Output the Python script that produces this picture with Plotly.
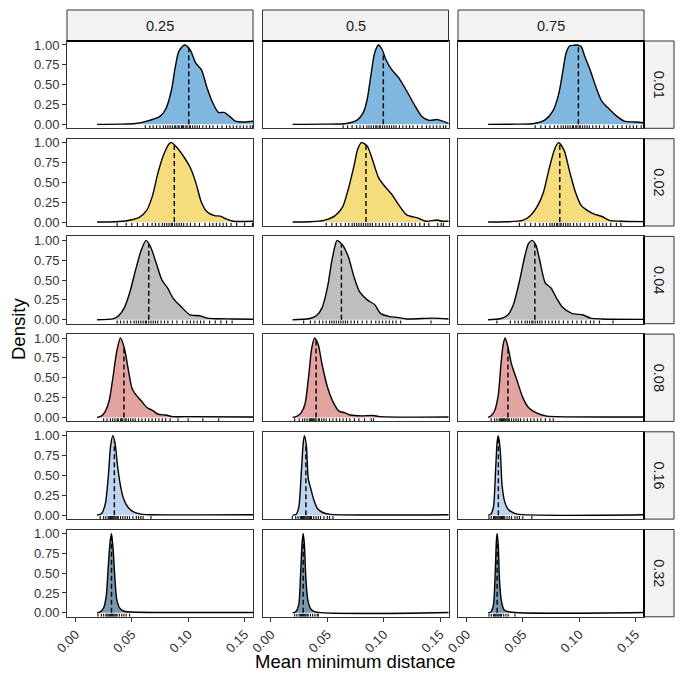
import plotly.graph_objects as go

# ---------------- facet labels / ticks ----------------
COL_LABELS = ["0.25", "0.5", "0.75"]
ROW_LABELS = ["0.01", "0.02", "0.04", "0.08", "0.16", "0.32"]
ROW_FILLS = ["#7FB7DE", "#F5DD7E", "#BEBEBE", "#E3A4A1", "#BDD3EE", "#7997AF"]
X_TICKS = [0.0, 0.05, 0.10, 0.15]
X_TICK_TEXT = ["0.00", "0.05", "0.10", "0.15"]
Y_TICKS = [0.0, 0.25, 0.5, 0.75, 1.0]
Y_TICK_TEXT = ["0.00", "0.25", "0.50", "0.75", "1.00"]

# ---------------- scaled density curves ----------------
# row 0.01
dx_01_25 = [0.0192, 0.040, 0.0533, 0.0633, 0.0750, 0.0800, 0.0850, 0.0884, 0.0917, 0.0967, 0.1017, 0.1067, 0.1117, 0.1167, 0.1218, 0.1268, 0.1318, 0.1368, 0.1418, 0.1502, 0.158]
dy_01_25 = [0.0, 0.002, 0.01, 0.04, 0.10, 0.19, 0.42, 0.71, 0.92, 1.0, 0.94, 0.77, 0.69, 0.46, 0.27, 0.15, 0.15, 0.10, 0.04, 0.03, 0.04]
dx_01_50 = [0.0192, 0.046, 0.067, 0.077, 0.082, 0.0853, 0.0887, 0.092, 0.0954, 0.0987, 0.1021, 0.1071, 0.1137, 0.1204, 0.1271, 0.1338, 0.1405, 0.1471, 0.1522, 0.158]
dy_01_50 = [0.0, 0.002, 0.01, 0.06, 0.15, 0.31, 0.62, 0.90, 1.0, 0.94, 0.81, 0.69, 0.58, 0.42, 0.25, 0.10, 0.05, 0.06, 0.04, 0.01]
dx_01_75 = [0.0192, 0.045, 0.0600, 0.0700, 0.0767, 0.0817, 0.0850, 0.0884, 0.0917, 0.0950, 0.0984, 0.1017, 0.1051, 0.1101, 0.1151, 0.1201, 0.1268, 0.1335, 0.1401, 0.1501, 0.158]
dy_01_75 = [0.0, 0.002, 0.01, 0.06, 0.17, 0.375, 0.625, 0.90, 0.99, 0.995, 1.0, 0.98, 0.85, 0.67, 0.46, 0.29, 0.19, 0.10, 0.04, 0.03, 0.02]
# row 0.02
dx_02_25 = [0.0192, 0.035, 0.0466, 0.0566, 0.0633, 0.0683, 0.0733, 0.0783, 0.0833, 0.0853, 0.0900, 0.0967, 0.1017, 0.1067, 0.1117, 0.1167, 0.1234, 0.1284, 0.1334, 0.1401, 0.158]
dy_02_25 = [0.0, 0.003, 0.02, 0.06, 0.15, 0.33, 0.625, 0.85, 0.99, 1.0, 0.94, 0.81, 0.69, 0.50, 0.25, 0.13, 0.08, 0.075, 0.04, 0.01, 0.01]
dx_02_50 = [0.0192, 0.035, 0.0469, 0.057, 0.0636, 0.0687, 0.0737, 0.077, 0.0803, 0.0853, 0.0904, 0.0954, 0.1004, 0.1071, 0.1137, 0.1204, 0.1305, 0.1372, 0.1472, 0.1522, 0.158]
dy_02_50 = [0.0, 0.003, 0.02, 0.08, 0.19, 0.42, 0.71, 0.92, 1.0, 0.96, 0.77, 0.56, 0.46, 0.35, 0.21, 0.09, 0.05, 0.01, 0.025, 0.01, 0.01]
dx_02_75 = [0.0192, 0.035, 0.0499, 0.0566, 0.0633, 0.0683, 0.0733, 0.0783, 0.0817, 0.0867, 0.0917, 0.0967, 0.1017, 0.1068, 0.1134, 0.1201, 0.1268, 0.1368, 0.158]
dy_02_75 = [0.0, 0.003, 0.02, 0.08, 0.21, 0.375, 0.67, 0.92, 1.0, 0.90, 0.625, 0.375, 0.21, 0.15, 0.10, 0.07, 0.02, 0.01, 0.005]
# row 0.04
dx_04_25 = [0.0192, 0.0332, 0.0383, 0.0433, 0.0483, 0.0533, 0.0583, 0.0626, 0.0666, 0.0717, 0.0767, 0.0817, 0.0867, 0.0934, 0.1017, 0.1101, 0.1168, 0.1268, 0.1401, 0.158]
dy_04_25 = [0.0, 0.01, 0.05, 0.15, 0.35, 0.625, 0.875, 1.0, 0.92, 0.71, 0.50, 0.40, 0.27, 0.17, 0.06, 0.05, 0.02, 0.012, 0.01, 0.005]
dx_04_50 = [0.0192, 0.0336, 0.0403, 0.0453, 0.0503, 0.0536, 0.057, 0.0586, 0.0636, 0.0687, 0.0737, 0.0787, 0.0854, 0.0921, 0.0971, 0.1054, 0.1121, 0.1204, 0.1438, 0.158]
dy_04_50 = [0.0, 0.012, 0.05, 0.15, 0.42, 0.71, 0.94, 1.0, 0.94, 0.79, 0.54, 0.35, 0.25, 0.19, 0.08, 0.04, 0.03, 0.01, 0.02, 0.01]
dx_04_75 = [0.0192, 0.0299, 0.0366, 0.0416, 0.0466, 0.0516, 0.0550, 0.0583, 0.0616, 0.0650, 0.0700, 0.0750, 0.0800, 0.0850, 0.0934, 0.1034, 0.1101, 0.1201, 0.158]
dy_04_75 = [0.0, 0.012, 0.06, 0.19, 0.46, 0.79, 0.96, 1.0, 0.94, 0.75, 0.46, 0.40, 0.27, 0.16, 0.08, 0.06, 0.02, 0.01, 0.005]
# row 0.08
dx_08_25 = [0.0192, 0.0232, 0.0266, 0.0299, 0.0332, 0.0366, 0.0399, 0.0433, 0.0466, 0.0500, 0.0533, 0.0583, 0.0633, 0.0683, 0.0733, 0.0800, 0.0867, 0.0967, 0.158]
dy_08_25 = [0.0, 0.02, 0.08, 0.21, 0.50, 0.83, 1.0, 0.875, 0.625, 0.375, 0.29, 0.21, 0.125, 0.09, 0.04, 0.03, 0.01, 0.01, 0.005]
dx_08_50 = [0.0192, 0.0229, 0.0269, 0.0302, 0.0336, 0.0362, 0.0386, 0.0419, 0.0453, 0.0503, 0.0553, 0.0603, 0.0653, 0.0703, 0.0804, 0.0904, 0.0971, 0.158]
dy_08_50 = [0.0, 0.012, 0.06, 0.17, 0.54, 0.875, 1.0, 0.92, 0.67, 0.375, 0.19, 0.08, 0.06, 0.03, 0.02, 0.025, 0.01, 0.005]
dx_08_75 = [0.0192, 0.0216, 0.0249, 0.0283, 0.0306, 0.0326, 0.0343, 0.0366, 0.0400, 0.0450, 0.0500, 0.0550, 0.0616, 0.0700, 0.0800, 0.158]
dy_08_75 = [0.0, 0.017, 0.08, 0.29, 0.67, 0.92, 1.0, 0.90, 0.67, 0.46, 0.25, 0.125, 0.06, 0.02, 0.01, 0.005]
# row 0.16
dx_16_25 = [0.0192, 0.0232, 0.0266, 0.0292, 0.0312, 0.0332, 0.0352, 0.0373, 0.0399, 0.0426, 0.0466, 0.0516, 0.0583, 0.0666, 0.158]
dy_16_25 = [0.0, 0.02, 0.15, 0.50, 0.875, 1.0, 0.90, 0.625, 0.375, 0.21, 0.10, 0.04, 0.012, 0.005, 0.005]
dx_16_50 = [0.0192, 0.0224, 0.0247, 0.0271, 0.0287, 0.0297, 0.0314, 0.0331, 0.0354, 0.0381, 0.0414, 0.0464, 0.0531, 0.158]
dy_16_50 = [0.0, 0.012, 0.10, 0.58, 0.92, 1.0, 0.875, 0.46, 0.33, 0.19, 0.08, 0.03, 0.01, 0.005]
dx_16_75 = [0.0192, 0.0216, 0.0239, 0.0259, 0.0272, 0.0282, 0.0299, 0.0316, 0.0339, 0.0366, 0.0400, 0.0450, 0.158]
dy_16_75 = [0.0, 0.012, 0.10, 0.58, 0.92, 1.0, 0.83, 0.375, 0.17, 0.08, 0.04, 0.012, 0.005]
# row 0.32
dx_32_25 = [0.0192, 0.0216, 0.0249, 0.0273, 0.0289, 0.0306, 0.0319, 0.0333, 0.0349, 0.0366, 0.0393, 0.0433, 0.0483, 0.158]
dy_32_25 = [0.0, 0.01, 0.06, 0.21, 0.54, 0.875, 1.0, 0.83, 0.46, 0.17, 0.06, 0.02, 0.01, 0.005]
dx_32_50 = [0.0192, 0.0219, 0.0246, 0.0262, 0.0276, 0.0286, 0.0296, 0.0309, 0.0326, 0.0353, 0.0393, 0.158]
dy_32_50 = [0.0, 0.012, 0.10, 0.46, 0.875, 1.0, 0.875, 0.46, 0.17, 0.05, 0.012, 0.005]
dx_32_75 = [0.0192, 0.0216, 0.0239, 0.0256, 0.0266, 0.0273, 0.0283, 0.0293, 0.0310, 0.0333, 0.0383, 0.158]
dy_32_75 = [0.0, 0.012, 0.10, 0.54, 0.92, 1.0, 0.83, 0.42, 0.15, 0.04, 0.01, 0.005]

# ---------------- medians (dashed lines) and curve height at median ----------------
med_01 = [0.1005, 0.0997, 0.0993]
medh_01 = [0.955, 0.90, 1.0]
med_02 = [0.0877, 0.0843, 0.0828]
medh_02 = [0.97, 0.97, 0.98]
med_04 = [0.0650, 0.0625, 0.0607]
medh_04 = [0.95, 0.95, 0.955]
med_08 = [0.0430, 0.0400, 0.0368]
medh_08 = [0.88, 0.97, 0.89]
med_16 = [0.0345, 0.0310, 0.0283]
medh_16 = [0.93, 0.90, 0.98]
med_32 = [0.0320, 0.0286, 0.0272]
medh_32 = [1.0, 1.0, 1.0]

# ---------------- rug values ----------------
rug_01_25 = [0.062, 0.066, 0.069, 0.072, 0.075, 0.078, 0.080, 0.082, 0.084, 0.086, 0.088, 0.089, 0.091, 0.092, 0.094, 0.095, 0.096, 0.098, 0.099, 0.101, 0.102, 0.104, 0.106, 0.108, 0.110, 0.113, 0.116, 0.119, 0.122, 0.126, 0.130, 0.134, 0.137, 0.140, 0.143, 0.146, 0.149, 0.152, 0.155, 0.157]
rug_01_50 = [0.064, 0.068, 0.072, 0.076, 0.079, 0.082, 0.085, 0.087, 0.089, 0.091, 0.093, 0.094, 0.096, 0.097, 0.099, 0.101, 0.103, 0.105, 0.107, 0.109, 0.111, 0.114, 0.117, 0.120, 0.123, 0.126, 0.130, 0.134, 0.138, 0.141, 0.144, 0.147, 0.150, 0.153, 0.155]
rug_01_75 = [0.061, 0.066, 0.070, 0.074, 0.078, 0.081, 0.084, 0.086, 0.088, 0.090, 0.092, 0.094, 0.095, 0.097, 0.098, 0.100, 0.101, 0.103, 0.105, 0.107, 0.109, 0.112, 0.115, 0.118, 0.122, 0.126, 0.130, 0.134, 0.138, 0.142, 0.145, 0.148, 0.151, 0.155]
rug_02_25 = [0.037, 0.045, 0.050, 0.055, 0.060, 0.064, 0.068, 0.071, 0.074, 0.077, 0.079, 0.081, 0.083, 0.085, 0.086, 0.088, 0.090, 0.092, 0.094, 0.096, 0.099, 0.102, 0.106, 0.110, 0.115, 0.119, 0.122, 0.125, 0.128, 0.131, 0.134, 0.138, 0.143, 0.150, 0.157]
rug_02_50 = [0.049, 0.054, 0.058, 0.062, 0.066, 0.069, 0.072, 0.074, 0.076, 0.078, 0.080, 0.082, 0.084, 0.086, 0.088, 0.090, 0.093, 0.096, 0.099, 0.102, 0.105, 0.108, 0.112, 0.116, 0.119, 0.122, 0.125, 0.128, 0.132, 0.136, 0.140, 0.148, 0.151, 0.153]
rug_02_75 = [0.047, 0.052, 0.057, 0.061, 0.065, 0.068, 0.071, 0.074, 0.076, 0.078, 0.080, 0.081, 0.083, 0.084, 0.086, 0.088, 0.090, 0.092, 0.095, 0.098, 0.101, 0.105, 0.109, 0.112, 0.115, 0.118, 0.121, 0.124, 0.128, 0.133, 0.137]
rug_04_25 = [0.037, 0.040, 0.043, 0.046, 0.049, 0.052, 0.054, 0.056, 0.058, 0.060, 0.062, 0.063, 0.065, 0.067, 0.069, 0.071, 0.073, 0.076, 0.079, 0.082, 0.086, 0.090, 0.095, 0.099, 0.102, 0.105, 0.108, 0.111, 0.114, 0.119, 0.124, 0.129, 0.134, 0.139]
rug_04_50 = [0.029, 0.035, 0.039, 0.043, 0.046, 0.049, 0.052, 0.054, 0.056, 0.058, 0.060, 0.062, 0.064, 0.066, 0.068, 0.071, 0.074, 0.077, 0.081, 0.085, 0.089, 0.093, 0.096, 0.099, 0.102, 0.105, 0.108, 0.111, 0.115, 0.142]
rug_04_75 = [0.027, 0.039, 0.043, 0.046, 0.049, 0.052, 0.054, 0.056, 0.058, 0.059, 0.061, 0.063, 0.065, 0.067, 0.070, 0.073, 0.076, 0.079, 0.082, 0.086, 0.090, 0.094, 0.098, 0.102, 0.106, 0.110, 0.113, 0.118, 0.130]
rug_08_25 = [0.025, 0.028, 0.031, 0.033, 0.035, 0.037, 0.038, 0.040, 0.041, 0.042, 0.044, 0.045, 0.047, 0.049, 0.051, 0.053, 0.056, 0.059, 0.062, 0.065, 0.068, 0.071, 0.074, 0.077, 0.080, 0.084, 0.091, 0.100, 0.113, 0.127]
rug_08_50 = [0.021, 0.025, 0.028, 0.030, 0.032, 0.034, 0.035, 0.036, 0.037, 0.038, 0.039, 0.040, 0.042, 0.043, 0.045, 0.047, 0.049, 0.052, 0.055, 0.058, 0.061, 0.064, 0.067, 0.070, 0.074, 0.078, 0.083, 0.089, 0.091]
rug_08_75 = [0.022, 0.025, 0.027, 0.029, 0.030, 0.031, 0.032, 0.033, 0.034, 0.035, 0.036, 0.037, 0.038, 0.040, 0.042, 0.044, 0.046, 0.048, 0.051, 0.054, 0.057, 0.060, 0.063, 0.066, 0.070, 0.074, 0.077]
rug_16_25 = [0.022, 0.025, 0.027, 0.029, 0.030, 0.031, 0.032, 0.033, 0.034, 0.035, 0.036, 0.037, 0.038, 0.040, 0.042, 0.044, 0.046, 0.048, 0.051, 0.054, 0.056, 0.058, 0.060, 0.067]
rug_16_50 = [0.019, 0.022, 0.024, 0.026, 0.027, 0.028, 0.029, 0.030, 0.031, 0.032, 0.033, 0.034, 0.035, 0.036, 0.038, 0.040, 0.042, 0.044, 0.047, 0.050, 0.052, 0.055]
rug_16_75 = [0.020, 0.022, 0.024, 0.025, 0.026, 0.027, 0.028, 0.029, 0.030, 0.031, 0.032, 0.033, 0.034, 0.036, 0.038, 0.040, 0.043, 0.045, 0.047, 0.050, 0.058]
rug_32_25 = [0.020, 0.023, 0.025, 0.027, 0.028, 0.029, 0.030, 0.031, 0.032, 0.033, 0.034, 0.035, 0.036, 0.037, 0.039, 0.041, 0.043, 0.045, 0.048]
rug_32_50 = [0.021, 0.023, 0.025, 0.026, 0.027, 0.028, 0.029, 0.030, 0.031, 0.032, 0.033, 0.035, 0.037, 0.039, 0.041, 0.042]
rug_32_75 = [0.020, 0.022, 0.024, 0.025, 0.026, 0.027, 0.028, 0.029, 0.030, 0.031, 0.033, 0.035, 0.037, 0.043]

# ---------------- assemble tables ----------------
CURVES = [
    [(dx_01_25, dy_01_25), (dx_01_50, dy_01_50), (dx_01_75, dy_01_75)],
    [(dx_02_25, dy_02_25), (dx_02_50, dy_02_50), (dx_02_75, dy_02_75)],
    [(dx_04_25, dy_04_25), (dx_04_50, dy_04_50), (dx_04_75, dy_04_75)],
    [(dx_08_25, dy_08_25), (dx_08_50, dy_08_50), (dx_08_75, dy_08_75)],
    [(dx_16_25, dy_16_25), (dx_16_50, dy_16_50), (dx_16_75, dy_16_75)],
    [(dx_32_25, dy_32_25), (dx_32_50, dy_32_50), (dx_32_75, dy_32_75)],
]
MEDS = [(med_01, medh_01), (med_02, medh_02), (med_04, medh_04),
        (med_08, medh_08), (med_16, medh_16), (med_32, medh_32)]
RUGS = [
    [rug_01_25, rug_01_50, rug_01_75],
    [rug_02_25, rug_02_50, rug_02_75],
    [rug_04_25, rug_04_50, rug_04_75],
    [rug_08_25, rug_08_50, rug_08_75],
    [rug_16_25, rug_16_50, rug_16_75],
    [rug_32_25, rug_32_50, rug_32_75],
]

# ---------------- layout geometry (pixels) ----------------
W = H = 685
COL_LEFT = [67.0, 262.5, 458.0]
COL_W = 186.0
ROW_TOP0 = 41.0
ROW_H = 87.3
ROW_PITCH = 97.7
STRIP_TOP = (10.0, 41.0)
STRIP_RIGHT = (644.0, 674.0)
XR = [-0.0075, 0.1575]
YR = [-0.05, 1.05]
FONT = "Liberation Sans, Arial, sans-serif"
DARK = "#333333"


def fx(p):
    return p / W


def fy(p):
    return 1 - p / H


fig = go.Figure()
layout_axes = {}
shapes = []
annotations = []

for r in range(6):
    top = ROW_TOP0 + r * ROW_PITCH
    bot = top + ROW_H
    for c in range(3):
        i = r * 3 + c + 1
        xa = "x" if i == 1 else f"x{i}"
        ya = "y" if i == 1 else f"y{i}"
        xkey = "xaxis" if i == 1 else f"xaxis{i}"
        ykey = "yaxis" if i == 1 else f"yaxis{i}"
        left = COL_LEFT[c]
        right = left + COL_W

        show_x = r == 5
        show_y = c == 0
        layout_axes[xkey] = dict(
            domain=[fx(left), fx(right)], anchor=ya, range=XR,
            showgrid=False, zeroline=False, showline=True, mirror=True,
            linecolor=DARK, linewidth=1,
            tickmode="array", tickvals=X_TICKS, ticktext=X_TICK_TEXT,
            showticklabels=show_x, ticks="outside" if show_x else "",
            ticklen=4, tickwidth=1, tickcolor=DARK, tickangle=-45,
            tickfont=dict(family=FONT, size=13, color=DARK),
            automargin=False, fixedrange=True,
        )
        layout_axes[ykey] = dict(
            domain=[fy(bot), fy(top)], anchor=xa, range=YR,
            showgrid=False, zeroline=False, showline=True, mirror=True,
            linecolor=DARK, linewidth=1,
            tickmode="array", tickvals=Y_TICKS, ticktext=Y_TICK_TEXT,
            showticklabels=show_y, ticks="outside" if show_y else "",
            ticklen=4, tickwidth=1, tickcolor=DARK,
            tickfont=dict(family=FONT, size=13, color=DARK),
            automargin=False, fixedrange=True,
        )

        dx, dy = CURVES[r][c]
        fig.add_trace(go.Scatter(
            x=dx, y=dy, xaxis=xa, yaxis=ya, mode="lines",
            line=dict(color="black", width=1.4, shape="spline", smoothing=0.7),
            fill="tozeroy", fillcolor=ROW_FILLS[r], hoverinfo="skip",
            showlegend=False,
        ))

        rx, ry = [], []
        for v in RUGS[r][c]:
            rx += [v, v, None]
            ry += [-0.05, -0.01, None]
        fig.add_trace(go.Scatter(
            x=rx, y=ry, xaxis=xa, yaxis=ya, mode="lines",
            line=dict(color="rgba(0,0,0,0.9)", width=1.2),
            hoverinfo="skip", showlegend=False,
        ))

        m, mh = MEDS[r]
        fig.add_trace(go.Scatter(
            x=[m[c], m[c]], y=[0, mh[c]], xaxis=xa, yaxis=ya, mode="lines",
            line=dict(color="black", width=1.4, dash="5px,3px"),
            hoverinfo="skip", showlegend=False,
        ))

    # right strip for this row
    shapes.append(dict(type="rect", xref="paper", yref="paper",
                       x0=fx(STRIP_RIGHT[0]), x1=fx(STRIP_RIGHT[1]),
                       y0=fy(bot), y1=fy(top),
                       fillcolor="#F2F2F2", line=dict(color=DARK, width=1)))
    shapes.append(dict(type="line", xref="paper", yref="paper",
                       x0=fx(STRIP_RIGHT[0]), x1=fx(STRIP_RIGHT[0]),
                       y0=fy(bot), y1=fy(top),
                       line=dict(color="black", width=2)))
    annotations.append(dict(xref="paper", yref="paper",
                            x=fx((STRIP_RIGHT[0] + STRIP_RIGHT[1]) / 2),
                            y=fy((top + bot) / 2), text=ROW_LABELS[r],
                            xanchor="center", yanchor="middle",
                            textangle=90, showarrow=False,
                            font=dict(family=FONT, size=14.5, color="#1a1a1a")))

for c in range(3):
    left = COL_LEFT[c]
    right = left + COL_W
    shapes.append(dict(type="rect", xref="paper", yref="paper",
                       x0=fx(left), x1=fx(right),
                       y0=fy(STRIP_TOP[1]), y1=fy(STRIP_TOP[0]),
                       fillcolor="#F2F2F2", line=dict(color=DARK, width=1)))
    shapes.append(dict(type="line", xref="paper", yref="paper",
                       x0=fx(left), x1=fx(right),
                       y0=fy(STRIP_TOP[1]), y1=fy(STRIP_TOP[1]),
                       line=dict(color="black", width=2)))
    annotations.append(dict(xref="paper", yref="paper",
                            x=fx((left + right) / 2),
                            y=fy((STRIP_TOP[0] + STRIP_TOP[1]) / 2),
                            xanchor="center", yanchor="middle",
                            text=COL_LABELS[c], showarrow=False,
                            font=dict(family=FONT, size=14.5, color="#1a1a1a")))

annotations.append(dict(xref="paper", yref="paper", x=fx(19), y=fy(329),
                        xanchor="center", yanchor="middle",
                        text="Density", textangle=-90, showarrow=False,
                        font=dict(family=FONT, size=18.5, color="black")))
annotations.append(dict(xref="paper", yref="paper", x=fx(355.5), y=fy(661),
                        xanchor="center", yanchor="middle",
                        text="Mean minimum distance", showarrow=False,
                        font=dict(family=FONT, size=18.5, color="black")))

fig.update_layout(
    width=W, height=H,
    margin=dict(l=0, r=0, t=0, b=0),
    paper_bgcolor="white", plot_bgcolor="white",
    shapes=shapes, annotations=annotations,
    showlegend=False,
    **layout_axes,
)

fig.write_html(
    "out.html",
    config={"displayModeBar": False, "staticPlot": True},
    post_script="document.body.style.margin='0';document.body.style.overflow='hidden';",
)
